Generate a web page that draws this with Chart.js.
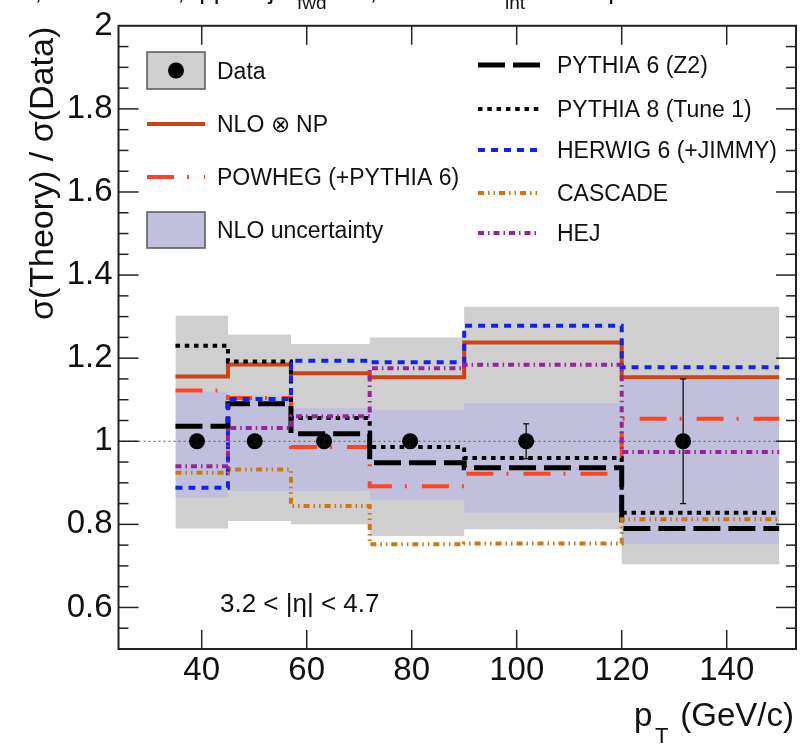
<!DOCTYPE html>
<html><head><meta charset="utf-8">
<script src="https://cdn.jsdelivr.net/npm/chart.js@4.4.1/dist/chart.umd.min.js"></script>
<style>html,body{margin:0;padding:0;background:#fff}canvas{display:block}</style>
</head><body>
<canvas id="c" width="806" height="746"></canvas>
<script>
// ---- data ----
const binEdges = [35, 45, 57, 72, 90, 120, 150];
const dataX = [39.1, 50.1, 63.3, 79.7, 101.8, 131.7];
const dataY = [1, 1, 1, 1, 1, 1];
const dataErr = [0.01, 0.01, 0.01, 0.015, 0.042, 0.15];
const dataBandUp = [1.302, 1.257, 1.234, 1.25, 1.324, 1.324];
const dataBandDown = [0.79, 0.808, 0.80, 0.772, 0.788, 0.704];
const nloBandUp = [1.12, 1.11, 1.08, 1.076, 1.092, 1.148];
const nloBandDown = [0.864, 0.88, 0.88, 0.858, 0.828, 0.752];
const nloNP = [1.156, 1.185, 1.164, 1.154, 1.238, 1.154];
const powheg = [1.122, 1.104, 0.986, 0.892, 0.922, 1.054];
const pythia6 = [1.036, 1.09, 1.018, 0.948, 0.936, 0.79];
const pythia8 = [1.23, 1.192, 1.056, 0.986, 0.96, 0.828];
const herwig = [0.888, 1.102, 1.194, 1.19, 1.278, 1.178];
const cascade = [0.924, 0.932, 0.844, 0.752, 0.754, 0.812];
const hej = [0.94, 1.032, 1.06, 1.176, 1.184, 0.974];
const xTickValues = [40, 60, 80, 100, 120, 140];
const yTickValues = [0.6, 0.8, 1, 1.2, 1.4, 1.6, 1.8, 2];
const xRange = [24.15, 153.2];
const yRange = [0.5, 2.0];

const FONT = "'Liberation Sans', Arial, Helvetica, sans-serif";
const C = {
  gray: '#cfcfcf', lav: '#c0c0dc', nlo: '#cc4411', powheg: '#ff4422',
  herwig: '#1122ee', cascade: '#cc7711', hej: '#992299', black: '#000'
};
const STY = {
  nlo: {color: C.nlo, width: 4, dash: []},
  powheg: {color: C.powheg, width: 4, dash: [27, 13, 2, 15]},
  pythia6: {color: C.black, width: 5, dash: [27, 8]},
  pythia8: {color: C.black, width: 4, dash: [4.5, 4.8]},
  herwig: {color: C.herwig, width: 4, dash: [7, 6]},
  cascade: {color: C.cascade, width: 4, dash: [6, 4, 1.5, 4, 1.5, 4]},
  hej: {color: C.hej, width: 4, dash: [6, 4, 1.5, 4]}
};

function stepPoints(vals) {
  const p = vals.map((v, i) => ({x: binEdges[i], y: v}));
  p.push({x: binEdges[binEdges.length - 1], y: vals[vals.length - 1]});
  return p;
}
function lineDS(label, vals, s, order) {
  return {label, data: stepPoints(vals), stepped: true, fill: false, pointRadius: 0,
    pointHoverRadius: 0, borderColor: s.color, borderWidth: s.width, borderDash: s.dash,
    borderCapStyle: 'butt', borderJoinStyle: 'miter', order};
}
function bandDS(label, vals, color, fill, order) {
  return {label, data: stepPoints(vals), stepped: true, fill: fill, backgroundColor: color,
    borderColor: 'rgba(0,0,0,0)', borderWidth: 0, pointRadius: 0, pointHoverRadius: 0, order};
}

const datasets = [
  {label: 'Data', data: dataX.map((x, i) => ({x, y: dataY[i]})), showLine: false,
   pointRadius: 8, pointHoverRadius: 8, pointBackgroundColor: '#000', pointBorderColor: '#000',
   pointBorderWidth: 0, borderColor: '#000', order: 0},
  lineDS('HEJ', hej, STY.hej, 1),
  lineDS('CASCADE', cascade, STY.cascade, 2),
  lineDS('HERWIG 6 (+JIMMY)', herwig, STY.herwig, 3),
  lineDS('PYTHIA 8 (Tune 1)', pythia8, STY.pythia8, 4),
  lineDS('PYTHIA 6 (Z2)', pythia6, STY.pythia6, 5),
  lineDS('POWHEG (+PYTHIA 6)', powheg, STY.powheg, 6),
  lineDS('NLO ⊗ NP', nloNP, STY.nlo, 7),
  {label: 'ref', data: [{x: xRange[0], y: 1}, {x: xRange[1], y: 1}], borderColor: '#555',
   borderWidth: 1, borderDash: [2, 3], pointRadius: 0, fill: false, order: 50},
  bandDS('nloUp', nloBandUp, C.lav, '+1', 90),
  bandDS('nloDown', nloBandDown, C.lav, false, 91),
  bandDS('dataUp', dataBandUp, C.gray, '+1', 100),
  bandDS('dataDown', dataBandDown, C.gray, false, 101)
];

function seg(ctx, x1, y1, x2, y2) { ctx.beginPath(); ctx.moveTo(x1, y1); ctx.lineTo(x2, y2); ctx.stroke(); }

const decor = {
  id: 'decor',
  afterDatasetsDraw(chart) {
    const ctx = chart.ctx, xs = chart.scales.x, ys = chart.scales.y;
    ctx.save();
    ctx.strokeStyle = '#111'; ctx.lineWidth = 1.3; ctx.setLineDash([]);
    dataX.forEach((x, i) => {
      const px = xs.getPixelForValue(x);
      const t = ys.getPixelForValue(dataY[i] + dataErr[i]);
      const b = ys.getPixelForValue(dataY[i] - dataErr[i]);
      seg(ctx, px, t, px, b);
      seg(ctx, px - 3, t, px + 3, t);
      seg(ctx, px - 3, b, px + 3, b);
    });
    ctx.restore();
  },
  afterDraw(chart) {
    const ctx = chart.ctx, xs = chart.scales.x, ys = chart.scales.y, a = chart.chartArea;
    ctx.save();
    ctx.setLineDash([]);
    // frame
    ctx.strokeStyle = '#222'; ctx.lineWidth = 2;
    ctx.strokeRect(a.left, a.top, a.right - a.left, a.bottom - a.top);
    // ticks
    ctx.lineWidth = 1.5;
    xTickValues.forEach(v => {
      const px = xs.getPixelForValue(v);
      seg(ctx, px, a.bottom, px, a.bottom - 19);
      seg(ctx, px, a.top, px, a.top + 19);
    });
    for (let k = 1; k < 30; k++) {
      const v = yRange[0] + 0.05 * k;
      const py = ys.getPixelForValue(v);
      const L = (k % 4 === 2) ? 20 : 10;
      seg(ctx, a.left, py, a.left + L, py);
      seg(ctx, a.right, py, a.right - L, py);
    }
    // axis titles
    ctx.fillStyle = '#111';
    ctx.save();
    ctx.translate(53, a.top + 1);
    ctx.rotate(-Math.PI / 2);
    ctx.font = '34px ' + FONT; ctx.textAlign = 'right'; ctx.textBaseline = 'alphabetic';
    ctx.fillText('σ(Theory) / σ(Data)', 0, 0);
    ctx.restore();
    ctx.textBaseline = 'alphabetic';
    ctx.font = '33px ' + FONT; ctx.textAlign = 'left';
    ctx.fillText('p', 634, 726);
    ctx.font = '22px ' + FONT;
    ctx.fillText('T', 655, 743);
    ctx.font = '33px ' + FONT; ctx.textAlign = 'right';
    ctx.fillText('(GeV/c)', 794, 726);
    // partially visible header (cut by the top edge)
    ctx.font = '26px ' + FONT; ctx.textAlign = 'right';
    ctx.fillText('CMS,  √s = 7 TeV,  pp → jet', 296, -1);
    ctx.textAlign = 'left';
    ctx.fillText('+ X,   L', 330, -1);
    ctx.fillText('= 3.14 pb⁻¹', 528, -1);
    ctx.font = '19px ' + FONT;
    ctx.fillText('fwd', 297, 9);
    ctx.fillText('int', 505, 9);
    // eta label
    ctx.font = '26px ' + FONT; ctx.textAlign = 'left';
    ctx.fillText('3.2 < |η| < 4.7', 220, 612);
    // legend
    const lf = 23, capH = lf * 0.716;
    ctx.font = lf + 'px ' + FONT; ctx.textAlign = 'left';
    const txt = (s, x, cy) => ctx.fillText(s, x, cy + capH / 2);
    const box = (y1, y2, col) => {
      ctx.fillStyle = col; ctx.fillRect(147, y1, 58, y2 - y1);
      ctx.strokeStyle = '#555'; ctx.lineWidth = 1.5; ctx.setLineDash([]);
      ctx.strokeRect(147, y1, 58, y2 - y1);
    };
    const sample = (x1, x2, cy, s) => {
      ctx.strokeStyle = s.color; ctx.lineWidth = s.width; ctx.setLineDash(s.dash);
      ctx.lineCap = 'butt'; seg(ctx, x1, cy, x2, cy); ctx.setLineDash([]);
    };
    box(52, 89, C.gray);
    ctx.fillStyle = '#000'; ctx.beginPath(); ctx.arc(176, 70.5, 8, 0, Math.PI * 2); ctx.fill();
    ctx.fillStyle = '#111'; txt('Data', 217, 71);
    sample(147, 205, 124, STY.nlo);
    ctx.fillStyle = '#111'; txt('NLO ⊗ NP', 217, 124);
    sample(147, 205, 177, STY.powheg);
    ctx.fillStyle = '#111'; txt('POWHEG (+PYTHIA 6)', 217, 177);
    box(212, 248, C.lav);
    ctx.fillStyle = '#111'; txt('NLO uncertainty', 217, 230);
    const right = [['PYTHIA 6 (Z2)', STY.pythia6, 65], ['PYTHIA 8 (Tune 1)', STY.pythia8, 109],
      ['HERWIG 6 (+JIMMY)', STY.herwig, 150], ['CASCADE', STY.cascade, 193], ['HEJ', STY.hej, 233]];
    right.forEach(([s, st, cy]) => {
      sample(478, 540, cy, st);
      ctx.fillStyle = '#111'; txt(s, 557, cy);
    });
    ctx.restore();
  }
};

new Chart(document.getElementById('c'), {
  type: 'line',
  data: {datasets},
  options: {
    responsive: false, animation: false, devicePixelRatio: 1,
    events: [],
    layout: {padding: {top: 21, right: 10, left: 0, bottom: 0}},
    plugins: {legend: {display: false}, tooltip: {enabled: false}, title: {display: false}},
    scales: {
      x: {type: 'linear', min: xRange[0], max: xRange[1],
        grid: {display: false, drawTicks: false}, border: {display: false},
        afterBuildTicks: s => { s.ticks = xTickValues.map(v => ({value: v})); },
        afterFit: s => { s.height = 97; },
        ticks: {font: {family: FONT, size: 33}, color: '#111', padding: 2, maxRotation: 0,
          autoSkip: false, callback: v => String(v)}},
      y: {type: 'linear', min: yRange[0], max: yRange[1],
        grid: {display: false, drawTicks: false}, border: {display: false},
        afterBuildTicks: s => { s.ticks = yTickValues.map(v => ({value: v})); },
        afterFit: s => { s.width = 118.5; },
        ticks: {font: {family: FONT, size: 33}, color: '#111', padding: 6,
          autoSkip: false, callback: v => String(v)}}
    }
  },
  plugins: [decor]
});
</script>
</body></html>
